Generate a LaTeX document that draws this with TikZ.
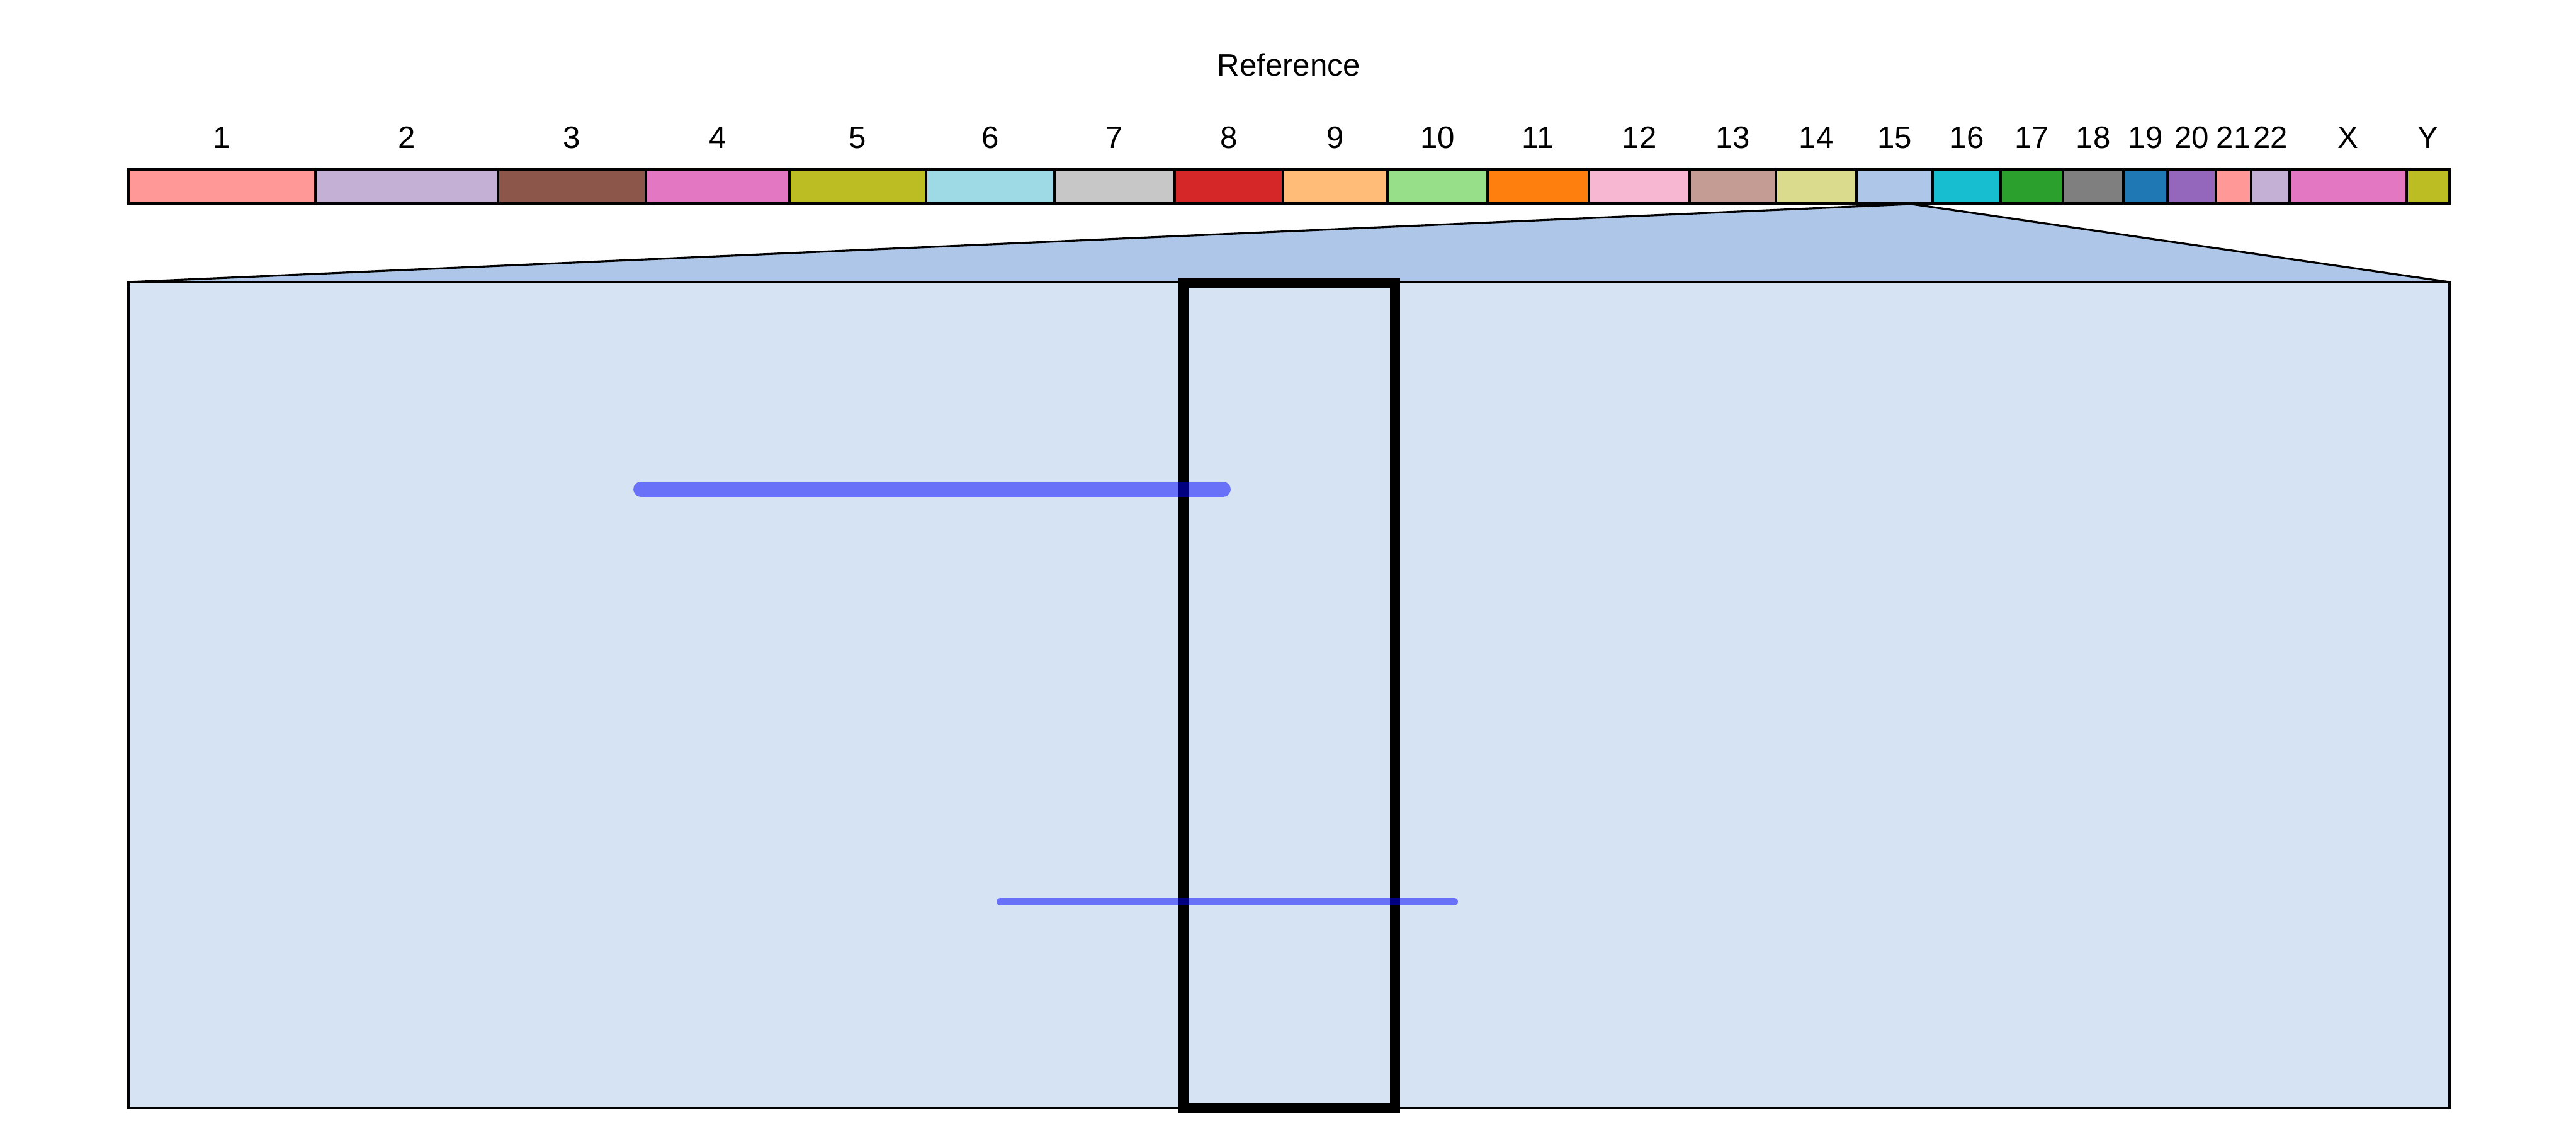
\documentclass[tikz,border=0pt]{standalone}
\usepackage{fontspec}
\setmainfont{Liberation Sans}
\usepackage{tikz}
\usetikzlibrary{positioning}
\definecolor{tabredl}{HTML}{FF9896}
\definecolor{tabpurplel}{HTML}{C5B0D5}
\definecolor{tabbrown}{HTML}{8C564B}
\definecolor{tabpink}{HTML}{E377C2}
\definecolor{tabolive}{HTML}{BCBD22}
\definecolor{tabcyanl}{HTML}{9EDAE5}
\definecolor{tabgrayl}{HTML}{C7C7C7}
\definecolor{tabred}{HTML}{D62728}
\definecolor{taborangel}{HTML}{FFBB78}
\definecolor{tabgreenl}{HTML}{98DF8A}
\definecolor{taborange}{HTML}{FF7F0E}
\definecolor{tabpinkl}{HTML}{F7B6D2}
\definecolor{tabbrownl}{HTML}{C49C94}
\definecolor{tabolivel}{HTML}{DBDB8D}
\definecolor{tabbluel}{HTML}{AEC7E8}
\definecolor{tabcyan}{HTML}{17BECF}
\definecolor{tabgreen}{HTML}{2CA02C}
\definecolor{tabgray}{HTML}{7F7F7F}
\definecolor{tabblue}{HTML}{1F77B4}
\definecolor{tabpurple}{HTML}{9467BD}
\definecolor{zoombg}{HTML}{D6E3F3}
\tikzset{
  chrseg/.style={draw=black, line width=0.9pt},
  chrlab/.style={font=\fontsize{14}{16}\selectfont, anchor=base, inner sep=0pt},
  hit/.style={blue, opacity=0.5, line cap=round}
}

\begin{document}
\begin{tikzpicture}
\useasboundingbox (0,0) rectangle (40.92,17.92);
\node[chrlab] (title) at (20.47,16.71) {Reference};
% genome bar
\foreach \a/\b/\l/\c in {2.04/5.01/1/tabredl, 5.01/7.91/2/tabpurplel, 7.91/10.26/3/tabbrown,
  10.26/12.54/4/tabpink, 12.54/14.71/5/tabolive, 14.71/16.75/6/tabcyanl, 16.75/18.66/7/tabgrayl,
  18.66/20.38/8/tabred, 20.38/22.04/9/taborangel, 22.04/23.63/10/tabgreenl, 23.63/25.24/11/taborange,
  25.24/26.84/12/tabpinkl, 26.84/28.21/13/tabbrownl, 28.21/29.49/14/tabolivel, 29.49/30.70/15/tabbluel,
  30.70/31.78/16/tabcyan, 31.78/32.77/17/tabgreen, 32.77/33.73/18/tabgray, 33.73/34.43/19/tabblue,
  34.43/35.20/20/tabpurple, 35.20/35.76/21/tabredl, 35.76/36.37/22/tabpurplel, 36.37/38.23/X/tabpink,
  38.23/38.91/Y/tabolive} {
  \draw[chrseg, fill=\c] (\a,14.69) rectangle (\b,15.23);
  \node[chrlab] (lab\l) at ({(\a+\b)/2},15.56) {\l};
}
\draw[line width=1.2pt] (2.04,14.69) rectangle (38.91,15.23);
% zoom onto chr15
\coordinate (apex) at (30.36,14.68);
\draw[fill=tabbluel, line width=0.9pt] (2.04,13.44) -- (apex) -- (38.91,13.44) -- cycle;
\draw[fill=zoombg, line width=1.2pt] (2.04,0.32) rectangle (38.91,13.44);
\draw[line width=4.5pt] (18.80,0.32) rectangle (22.16,13.43);
\draw[hit, line width=6.8pt] (10.18,10.15) -- (19.43,10.15);
\draw[hit, line width=3.4pt] (15.89,3.60) -- (23.10,3.60);
\end{tikzpicture}
\end{document}
